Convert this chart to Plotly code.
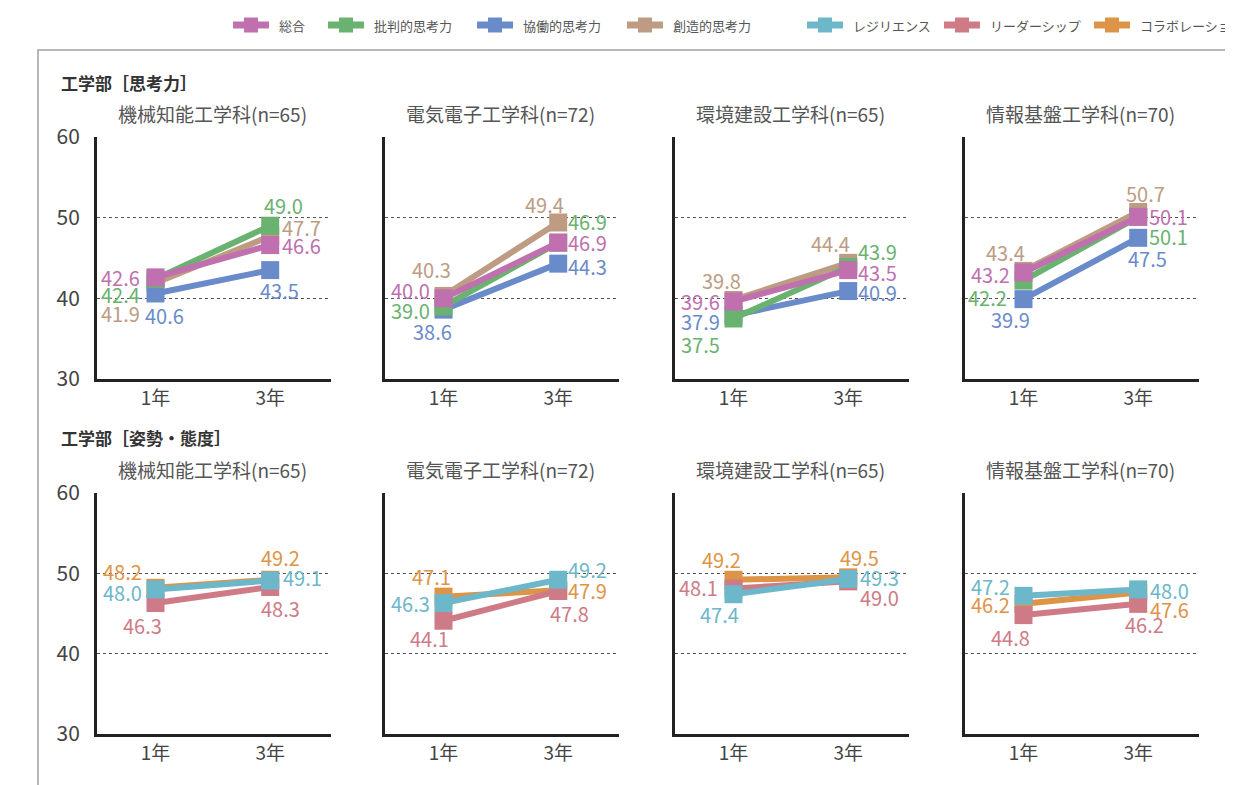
import plotly.graph_objects as go

# ---------------- data ----------------
years = ["1年", "3年"]
depts = ["機械知能工学科", "電気電子工学科", "環境建設工学科", "情報基盤工学科"]
n_counts = [65, 72, 65, 70]
section_titles = ["工学部［思考力］", "工学部［姿勢・態度］"]

think_names = ["総合", "批判的思考力", "協働的思考力", "創造的思考力"]
sogo = [[42.6, 46.6], [40.0, 46.9], [39.6, 43.5], [43.2, 50.1]]
hihan = [[42.4, 49.0], [39.0, 46.9], [37.5, 43.9], [42.2, 50.1]]
kyodo = [[40.6, 43.5], [38.6, 44.3], [37.9, 40.9], [39.9, 47.5]]
sozo = [[41.9, 47.7], [40.3, 49.4], [39.8, 44.4], [43.4, 50.7]]

att_names = ["レジリエンス", "リーダーシップ", "コラボレーション"]
resilience = [[48.0, 49.1], [46.3, 49.2], [47.4, 49.3], [47.2, 48.0]]
leadership = [[46.3, 48.3], [44.1, 47.8], [48.1, 49.0], [44.8, 46.2]]
collab = [[48.2, 49.2], [47.1, 47.9], [49.2, 49.5], [46.2, 47.6]]

y_ticks = [30, 40, 50, 60]

# ---------------- styles ----------------
PAGE_OFF = 8               # default body margin of the html page
W, H = 1233 - PAGE_OFF, 785 - PAGE_OFF
FONT = "Noto Sans CJK JP, Noto Sans, sans-serif"
think_colors = ["#C070AE", "#6AB26F", "#6A8BCA", "#BD9C83"]
att_colors = ["#6DB7CA", "#CE7B87", "#DE9447"]

# data-label offsets in screen pixels (dx, dy; dy positive = down), per panel/series/year
think_off = [
    [[(-35, 0), (31, 0)], [(-35, 16), (13, -20)], [(9, 22), (9, 20)], [(-35, 30), (31, -9)]],
    [[(-33, -8), (29, 0)], [(-33, 4), (29, -21)], [(-11, 22), (29, 3)], [(-12, -26), (-14, -18)]],
    [[(-33, 0), (29, 2)], [(-33, 26), (29, -15)], [(-33, 6), (29, 1)], [(-12, -19), (-18, -19)]],
    [[(-33, 2), (30, 0)], [(-36, 17), (30, 20)], [(-13, 20), (9, 21)], [(-18, -18), (7, -19)]],
]
att_off = [
    [[(-33, 3), (32, -3)], [(-13, 22), (10, 22)], [(-33, -16), (10, -22)]],
    [[(-33, 0), (29, -10)], [(-14, 18), (11, 22)], [(-12, -20), (29, 0)]],
    [[(-14, 20), (31, -1)], [(-35, -1), (31, 16)], [(-12, -20), (11, -20)]],
    [[(-33, -9), (31, 1)], [(-13, 22), (6, 21)], [(-33, 1), (31, 17)]],
]

panel_left = [97, 385, 675, 965]
panel_w = 234
row_px = [(137, 379), (493, 734)]  # (top, bottom) in screen px

legend_centers = [251, 346, 495, 645, 825, 962, 1112]
legend_y = 25


def px(x):
    return (x - PAGE_OFF) / W


def py(y):
    return 1 - (y - PAGE_OFF) / H


fig = go.Figure()
layout = dict(
    width=W, height=H, margin=dict(l=0, r=0, t=0, b=0, autoexpand=False),
    paper_bgcolor="white", plot_bgcolor="white", showlegend=False,
    font=dict(family=FONT, color="#444"),
)
annotations = []
shapes = []

rows = [
    (think_names, [sogo, hihan, kyodo, sozo], think_colors, think_off),
    (att_names, [resilience, leadership, collab], att_colors, att_off),
]

for r, (names, series, colors, offs) in enumerate(rows):
    top, bot = row_px[r]
    for c in range(4):
        k = r * 4 + c + 1
        xa = "xaxis" if k == 1 else f"xaxis{k}"
        ya = "yaxis" if k == 1 else f"yaxis{k}"
        xr = "x" if k == 1 else f"x{k}"
        yr = "y" if k == 1 else f"y{k}"
        layout[xa] = dict(
            domain=[px(panel_left[c]), px(panel_left[c] + panel_w)], anchor=yr,
            type="category", range=[-0.51, 1.53], showgrid=False, zeroline=False,
            showline=True, linecolor="#222", linewidth=3, ticks="", automargin=False,
            tickfont=dict(size=19, color="#444", family=FONT),
        )
        layout[ya] = dict(
            domain=[py(bot), py(top)], anchor=xr, range=[30, 60],
            tickvals=y_ticks, showgrid=True, gridcolor="#555", gridwidth=1,
            griddash="3px,3px", zeroline=False, showline=True, linecolor="#222",
            linewidth=3, ticks="", showticklabels=(c == 0), ticklabelstandoff=10,
            automargin=False,
            tickfont=dict(size=21, color="#444", family=FONT),
        )
        # traces: drawn in reverse so the first series sits on top
        for s in reversed(range(len(names))):
            vals = series[s][c]
            fig.add_trace(go.Scatter(
                x=years, y=vals, mode="lines+markers", name=names[s],
                line=dict(color=colors[s], width=6),
                marker=dict(symbol="square", size=18, color=colors[s]),
                xaxis=xr, yaxis=yr, hoverinfo="skip",
            ))
            for i, v in enumerate(vals):
                dx, dy = offs[c][s][i]
                annotations.append(dict(
                    x=years[i], y=v, xref=xr, yref=yr, text=f"{v:.1f}",
                    showarrow=False, xshift=dx, yshift=-dy,
                    xanchor="center", yanchor="middle",
                    font=dict(size=20, color=colors[s], family=FONT),
                ))
        # panel title
        annotations.append(dict(
            x=px(panel_left[c] + panel_w / 2 - 2), y=py(114 if r == 0 else 469),
            xref="paper", yref="paper", showarrow=False,
            xanchor="center", yanchor="middle",
            text=f"{depts[c]}(n={n_counts[c]})",
            font=dict(size=19, color="#555", family=FONT),
        ))
    # section title
    annotations.append(dict(
        x=px(59), y=py(82 if r == 0 else 437), xref="paper", yref="paper",
        xanchor="left", yanchor="middle", showarrow=False,
        text=f"<b>{section_titles[r]}</b>",
        font=dict(size=17, color="#333", family=FONT),
    ))

# frame
shapes.append(dict(type="rect", xref="paper", yref="paper",
                   x0=px(38), x1=1.05, y0=-0.05, y1=py(50),
                   line=dict(color="#A0A0A0", width=1.5), fillcolor="rgba(0,0,0,0)"))

# legend (manual)
all_names = think_names + att_names
all_colors = think_colors + att_colors
for name, col, cx in zip(all_names, all_colors, legend_centers):
    shapes.append(dict(type="rect", xref="paper", yref="paper",
                       x0=px(cx - 18), x1=px(cx + 18), y0=py(legend_y + 3.5), y1=py(legend_y - 3.5),
                       line=dict(width=0), fillcolor=col, layer="above"))
    shapes.append(dict(type="rect", xref="paper", yref="paper",
                       x0=px(cx - 7), x1=px(cx + 7), y0=py(legend_y + 7.5), y1=py(legend_y - 7.5),
                       line=dict(width=0), fillcolor=col, layer="above"))
    annotations.append(dict(
        x=px(cx + 26), y=py(legend_y), xref="paper", yref="paper",
        xanchor="left", yanchor="middle",
        showarrow=False, text=name, font=dict(size=13, color="#555", family=FONT),
    ))

layout["annotations"] = annotations
layout["shapes"] = shapes
fig.update_layout(**layout)
fig.write_html("out.html")
